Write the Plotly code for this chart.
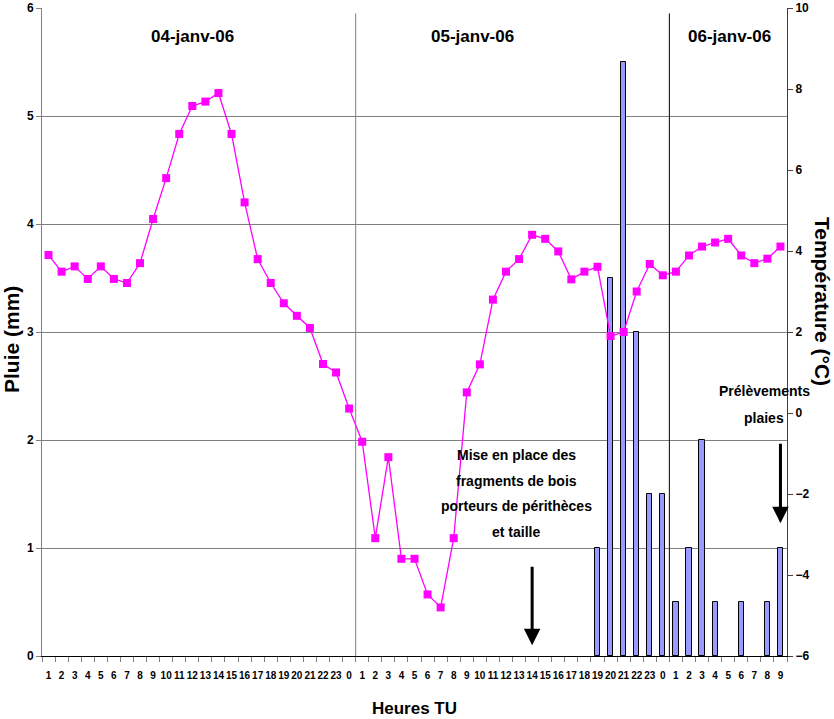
import plotly.graph_objects as go

# ---- data ----
hours = [str(h) for h in range(1, 24)] + [str(h) for h in range(0, 24)] + [str(h) for h in range(0, 10)]
temperature = [3.90, 3.49, 3.62, 3.31, 3.62, 3.31, 3.21, 3.70, 4.79, 5.80, 6.89, 7.58, 7.69, 7.90, 6.89, 5.20,
               3.80, 3.21, 2.71, 2.40, 2.10, 1.21, 1.00, 0.11, -0.71, -3.09, -1.09, -3.60, -3.60, -4.48, -4.80,
               -3.09, 0.51, 1.20, 2.80, 3.49, 3.80, 4.40, 4.30, 3.99, 3.30, 3.49, 3.61, 1.90, 2.00, 3.00, 3.68,
               3.40, 3.49, 3.89, 4.11, 4.21, 4.30, 3.89, 3.70, 3.81, 4.11]
rain = [0] * 42 + [1.0, 3.5, 5.5, 3.0, 1.5, 1.5, 0.5, 1.0, 2.0, 0.5, 0, 0.5, 0, 0.5, 1.0]
day_labels = ["04-janv-06", "05-janv-06", "06-janv-06"]
note_left = ["Mise en place des", "fragments de bois", "porteurs de périthèces", "et taille"]
note_right = ["Prélèvements", "plaies"]

x = list(range(len(hours)))

FONT = "Liberation Sans, Arial, sans-serif"

# plot-area pixel geometry (for placing decorative text)
L, R, T, B = 42, 787, 8, 656
def px(xp):
    return (xp - L) / (R - L)
def py(yp):
    return (B - yp) / (B - T)

def label(text, cx, cy, size, angle=0):
    return dict(text=text, xref="paper", yref="paper", x=px(cx), y=py(cy),
                xanchor="center", yanchor="middle", textangle=angle, showarrow=False,
                font=dict(family=FONT, size=size, color="black", weight="bold"))

fig = go.Figure()
fig.add_trace(go.Bar(x=x, y=[v if v else None for v in rain], width=0.4,
                     marker=dict(color="#9999FF", line=dict(color="black", width=1)),
                     yaxis="y", showlegend=False))
fig.add_trace(go.Scatter(x=x, y=temperature, mode="lines+markers", yaxis="y2",
                         line=dict(color="#FF00FF", width=1.3),
                         marker=dict(symbol="square", size=8, color="#FF00FF"),
                         showlegend=False))

shapes = [
    dict(type="line", xref="x", yref="y", x0=23.5, x1=23.5, y0=0, y1=5.95,
         line=dict(color="#808080", width=1)),
    dict(type="line", xref="x", yref="y", x0=47.5, x1=47.5, y0=0, y1=5.95,
         line=dict(color="black", width=1)),
]

ann = []
for lab, cx in zip(day_labels, [192, 472, 729]):
    ann.append(label(lab, cx, 37, 17))
for i, line in enumerate(note_left):
    ann.append(label(line, 516, 455 + i * 25.6, 14))
for i, line in enumerate(note_right):
    ann.append(label(line, 764, 391 + i * 27, 14))
# arrows
ann.append(dict(x=37, y=0.10, ax=37, ay=0.84, xref="x", yref="y", axref="x", ayref="y", text="",
                showarrow=True, arrowhead=2, arrowsize=1.1, arrowwidth=3, arrowcolor="black"))
ann.append(dict(x=56, y=1.23, ax=56, ay=1.98, xref="x", yref="y", axref="x", ayref="y", text="",
                showarrow=True, arrowhead=2, arrowsize=1.1, arrowwidth=3, arrowcolor="black"))
# axis titles
ann.append(label("Pluie (mm)", 11, 340, 21, -90))
ann.append(label("Température (°C)", 823, 301, 21, 90))
ann.append(label("Heures TU", 414, 708, 17))

fig.update_layout(
    width=834, height=719,
    margin=dict(l=L, r=834 - R, t=T, b=719 - B, autoexpand=False),
    paper_bgcolor="white", plot_bgcolor="white",
    bargap=0, showlegend=False,
    shapes=shapes, annotations=ann,
    xaxis=dict(range=[-0.5, len(hours) - 0.5], tickmode="array", tickvals=x, ticktext=hours,
               ticks="", ticklabelstandoff=10, tickangle=0, automargin=False,
               showgrid=False, zeroline=False,
               showline=True, linecolor="black", linewidth=1,
               tickfont=dict(family=FONT, size=10, color="black", weight="bold"),
               minor=dict(tickmode="linear", tick0=-0.5, dtick=1, ticks="outside", ticklen=5,
                          tickcolor="#808080", showgrid=False)),
    yaxis=dict(range=[0, 6], dtick=1, showgrid=True, gridcolor="#808080", gridwidth=1,
               automargin=False, zeroline=False, showline=True, linecolor="#808080", linewidth=1,
               ticks="outside", ticklen=5, tickcolor="#808080",
               tickfont=dict(family=FONT, size=12, color="black", weight="bold")),
    yaxis2=dict(range=[-6, 10], dtick=2, overlaying="y", side="right", showgrid=False,
                automargin=False, zeroline=False, showline=True, linecolor="#404040", linewidth=1,
                ticks="outside", ticklen=5, tickcolor="#404040",
                tickfont=dict(family=FONT, size=12, color="black", weight="bold")),
)

fig.write_html("out.html", config={"displayModeBar": False},
               post_script="document.body.style.margin='0';")
